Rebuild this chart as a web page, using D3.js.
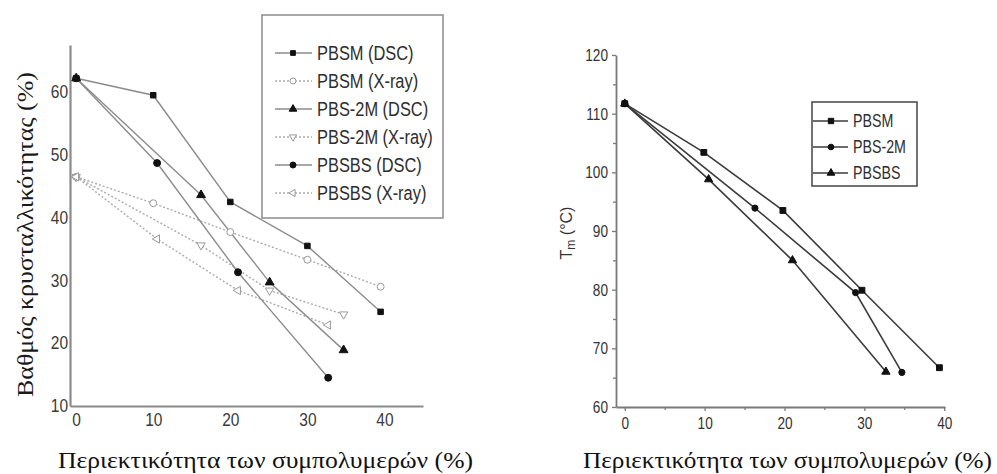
<!DOCTYPE html>
<html>
<head>
<meta charset="utf-8">
<script src="https://cdn.jsdelivr.net/npm/d3@7"></script>
<style>
  html, body { margin: 0; padding: 0; background: #fff; }
  svg { display: block; }
</style>
</head>
<body>
<svg id="chart" width="997" height="474"></svg>
<script>
// ---------- Crystallinity (%) vs copolymer content ----------
const crystX_PBSM   = [0, 10, 20, 30, 39.5];
const crystPBSM_DSC  = [62.2, 59.5, 42.5, 35.5, 25.0];
const crystPBSM_Xray = [46.5, 42.3, 37.7, 33.3, 29.0];

const crystX_PBS2M   = [0, 16.2, 25.1, 34.7];
const crystPBS2M_DSC  = [62.2, 43.6, 29.7, 18.9];
const crystPBS2M_Xray = [46.5, 35.6, 28.4, 24.6];

const crystX_PBSBS   = [0, 10.5, 21, 32.7];
const crystPBSBS_DSC  = [62.2, 48.7, 31.3, 14.5];
const crystPBSBS_Xray = [46.5, 36.6, 28.4, 22.9];

const crystLegend = ["PBSM (DSC)", "PBSM (X-ray)", "PBS-2M (DSC)", "PBS-2M (X-ray)", "PBSBS (DSC)", "PBSBS (X-ray)"];
const crystYTicks = [10, 20, 30, 40, 50, 60];
const crystXTicks = [0, 10, 20, 30, 40];

// ---------- Melting temperature Tm vs copolymer content ----------
const tmX_PBSM  = [0, 9.9, 19.8, 29.7, 39.4];
const tmPBSM    = [111.7, 103.4, 93.5, 79.9, 66.7];
const tmX_PBS2M = [0, 16.3, 28.9, 34.7];
const tmPBS2M   = [111.7, 93.9, 79.5, 65.9];
const tmX_PBSBS = [0, 10.5, 21, 32.7];
const tmPBSBS   = [111.7, 98.8, 85.0, 66.0];

const tmLegend = ["PBSM", "PBS-2M", "PBSBS"];
const tmYTicks = [60, 70, 80, 90, 100, 110, 120];
const tmYMinor = [65, 75, 85, 95, 105, 115];
const tmXTicks = [0, 10, 20, 30, 40];
const tmXMinor = [5, 15, 25, 35];

const xTitle = "Περιεκτικότητα των συμπολυμερών (%)";
const crystYTitle = "Βαθμός κρυσταλλικότητας (%)";

const SANS = "'Liberation Sans', Arial, sans-serif";
const SERIF = "'Liberation Serif', 'Times New Roman', serif";

const svg = d3.select("#chart");

// squeeze text horizontally to a narrow look
function condense(sel, k) {
  sel.each(function () {
    const w = this.getComputedTextLength();
    d3.select(this).attr("textLength", w * k).attr("lengthAdjust", "spacingAndGlyphs");
  });
}
function fitTo(sel, len) {
  sel.attr("textLength", len).attr("lengthAdjust", "spacingAndGlyphs");
}

// marker shapes
const sym = {
  square: d3.symbol().type(d3.symbolSquare),
  circle: d3.symbol().type(d3.symbolCircle),
  triUp: d3.symbol().type(d3.symbolTriangle)
};
function drawMarker(g, kind, x, y, size, fill, stroke) {
  let p;
  if (kind === "triDown") {
    p = g.append("path").attr("d", sym.triUp.size(size)()).attr("transform", `translate(${x},${y}) rotate(180)`);
  } else if (kind === "triLeft") {
    p = g.append("path").attr("d", sym.triUp.size(size)()).attr("transform", `translate(${x},${y}) rotate(-90)`);
  } else {
    p = g.append("path").attr("d", sym[kind].size(size)()).attr("transform", `translate(${x},${y})`);
  }
  p.attr("fill", fill).attr("stroke", stroke).attr("stroke-width", 1);
  return p;
}

// ================= Left panel =================
{
  const x = d3.scaleLinear().domain([-0.8, 45]).range([70, 423]);
  const y = d3.scaleLinear().domain([10, 67.5]).range([406, 45]);
  const g = svg.append("g");

  // axes
  const axisColor = "#8a8a8a";
  const xa = g.append("g").attr("transform", `translate(0,${y(10)})`)
    .call(d3.axisBottom(x).tickValues(crystXTicks).tickSize(0).tickPadding(6));
  const ya = g.append("g").attr("transform", `translate(${x(-0.8)},0)`)
    .call(d3.axisLeft(y).tickValues(crystYTicks).tickSize(0).tickPadding(2));
  [xa, ya].forEach(a => {
    a.select(".domain").attr("stroke", axisColor).attr("stroke-width", 2.2);
    a.selectAll("text").attr("fill", "#3a3a3a").style("font-family", SANS).style("font-size", "18px");
  });
  xa.selectAll("text").attr("dy", "0.78em");
  condense(xa.selectAll("text"), 0.86);
  condense(ya.selectAll("text"), 0.86);

  const line = d3.line().x(d => x(d[0])).y(d => y(d[1]));
  const series = [
    { xs: crystX_PBSM,  ys: crystPBSM_DSC,   dsc: true,  m: "square" },
    { xs: crystX_PBSM,  ys: crystPBSM_Xray,  dsc: false, m: "circle" },
    { xs: crystX_PBS2M, ys: crystPBS2M_DSC,  dsc: true,  m: "triUp" },
    { xs: crystX_PBS2M, ys: crystPBS2M_Xray, dsc: false, m: "triDown" },
    { xs: crystX_PBSBS, ys: crystPBSBS_DSC,  dsc: true,  m: "circle" },
    { xs: crystX_PBSBS, ys: crystPBSBS_Xray, dsc: false, m: "triLeft" }
  ];
  const styleOf = s => s.dsc
    ? { stroke: "#8c8c8c", dash: null, w: 1.4, mFill: "#111", mStroke: "#111" }
    : { stroke: "#ababab", dash: "2,2", w: 1.4, mFill: "#fff", mStroke: "#9a9a9a" };
  const sizeOf = m => ({ square: 30, circle: 38, triUp: 34, triDown: 30, triLeft: 30 }[m]);

  // X-ray series first, then DSC on top
  [...series.filter(s => !s.dsc), ...series.filter(s => s.dsc)].forEach(s => {
    const st = styleOf(s);
    const pts = s.xs.map((v, i) => [v, s.ys[i]]);
    g.append("path").attr("d", line(pts)).attr("fill", "none")
      .attr("stroke", st.stroke).attr("stroke-width", st.w).attr("stroke-dasharray", st.dash);
  });
  [...series.filter(s => !s.dsc), ...series.filter(s => s.dsc)].forEach(s => {
    const st = styleOf(s);
    s.xs.forEach((v, i) => drawMarker(g, s.m, x(v), y(s.ys[i]), sizeOf(s.m), st.mFill, st.mStroke));
  });

  // legend
  const lg = g.append("g");
  lg.append("rect").attr("x", 262).attr("y", 15).attr("width", 181).attr("height", 203)
    .attr("fill", "#fff").attr("stroke", "#8a8a8a").attr("stroke-width", 1.5);
  series.forEach((s, i) => {
    const st = styleOf(s);
    const yy = 53 + i * 28;
    lg.append("line").attr("x1", 275).attr("x2", 312).attr("y1", yy).attr("y2", yy)
      .attr("stroke", st.stroke).attr("stroke-width", 1.4).attr("stroke-dasharray", st.dash);
    drawMarker(lg, s.m, 293, yy, sizeOf(s.m) * 0.75, st.mFill, st.mStroke);
    const t = lg.append("text").attr("x", 317).attr("y", yy).attr("dy", "0.36em")
      .attr("fill", "#2e2e2e").style("font-family", SANS).style("font-size", "20px")
      .text(crystLegend[i]);
    condense(t, 0.82);
  });

  // titles
  const xt = g.append("text").attr("x", 265.5).attr("y", 468).attr("text-anchor", "middle")
    .attr("fill", "#111").style("font-family", SERIF).style("font-size", "24px").text(xTitle);
  fitTo(xt, 415);
  const yt = g.append("text").attr("transform", "translate(33,234.5) rotate(-90)").attr("text-anchor", "middle")
    .attr("fill", "#1a1a1a").style("font-family", SERIF).style("font-size", "23px").text(crystYTitle);
  fitTo(yt, 325);
}

// ================= Right panel =================
{
  const x = d3.scaleLinear().domain([-1.1, 40.1]).range([616, 945]);
  const y = d3.scaleLinear().domain([60, 120]).range([407, 55]);
  const g = svg.append("g");
  const axisColor = "#7a7a7a";

  const xa = g.append("g").attr("transform", `translate(0,${y(60)})`)
    .call(d3.axisBottom(x).tickValues(tmXTicks).tickSize(4).tickSizeOuter(0).tickPadding(6));
  const ya = g.append("g").attr("transform", `translate(${x(-1.1)},0)`)
    .call(d3.axisLeft(y).tickValues(tmYTicks).tickSize(4).tickSizeOuter(0).tickPadding(4));
  [xa, ya].forEach(a => {
    a.select(".domain").attr("stroke", axisColor).attr("stroke-width", 1.8);
    a.selectAll(".tick line").attr("stroke", axisColor).attr("stroke-width", 1.3);
    a.selectAll("text").attr("fill", "#333").style("font-family", SANS).style("font-size", "17px");
  });
  condense(xa.selectAll("text"), 0.8);
  condense(ya.selectAll("text"), 0.8);
  // minor ticks
  const xm = g.append("g").attr("transform", `translate(0,${y(60)})`)
    .call(d3.axisBottom(x).tickValues(tmXMinor).tickSize(3).tickFormat(""));
  const ym = g.append("g").attr("transform", `translate(${x(-1.1)},0)`)
    .call(d3.axisLeft(y).tickValues(tmYMinor).tickSize(3).tickFormat(""));
  [xm, ym].forEach(a => {
    a.select(".domain").remove();
    a.selectAll(".tick line").attr("stroke", axisColor).attr("stroke-width", 1.3);
  });

  const line = d3.line().x(d => x(d[0])).y(d => y(d[1]));
  const series = [
    { xs: tmX_PBSM,  ys: tmPBSM,  m: "square", size: 34 },
    { xs: tmX_PBS2M, ys: tmPBS2M, m: "circle", size: 30 },
    { xs: tmX_PBSBS, ys: tmPBSBS, m: "triUp",  size: 30 }
  ];
  series.forEach(s => {
    const pts = s.xs.map((v, i) => [v, s.ys[i]]);
    g.append("path").attr("d", line(pts)).attr("fill", "none")
      .attr("stroke", "#3c3c3c").attr("stroke-width", 1.6);
  });
  series.forEach(s => {
    s.xs.forEach((v, i) => drawMarker(g, s.m, x(v), y(s.ys[i]), s.size, "#111", "#111"));
  });

  // legend
  const lg = g.append("g");
  lg.append("rect").attr("x", 812).attr("y", 102).attr("width", 105).attr("height", 84)
    .attr("fill", "#fff").attr("stroke", "#444").attr("stroke-width", 1.5);
  series.forEach((s, i) => {
    const yy = 121 + i * 26;
    lg.append("line").attr("x1", 813).attr("x2", 848).attr("y1", yy).attr("y2", yy)
      .attr("stroke", "#3c3c3c").attr("stroke-width", 1.5);
    drawMarker(lg, s.m, 831, yy, s.size * 0.85, "#111", "#111");
    const t = lg.append("text").attr("x", 853).attr("y", yy).attr("dy", "0.36em")
      .attr("fill", "#2e2e2e").style("font-family", SANS).style("font-size", "18px")
      .text(tmLegend[i]);
    condense(t, 0.79);
  });

  // titles
  const xt = g.append("text").attr("x", 787.5).attr("y", 468).attr("text-anchor", "middle")
    .attr("fill", "#111").style("font-family", SERIF).style("font-size", "24px").text(xTitle);
  fitTo(xt, 409);
  const yt = g.append("text").attr("transform", "translate(572,233) rotate(-90)").attr("text-anchor", "middle")
    .attr("fill", "#333").style("font-family", SANS).style("font-size", "16px");
  yt.append("tspan").text("T");
  yt.append("tspan").attr("dy", 3).style("font-size", "12px").text("m");
  yt.append("tspan").attr("dy", -3).text(" (°C)");
}
</script>
</body>
</html>
